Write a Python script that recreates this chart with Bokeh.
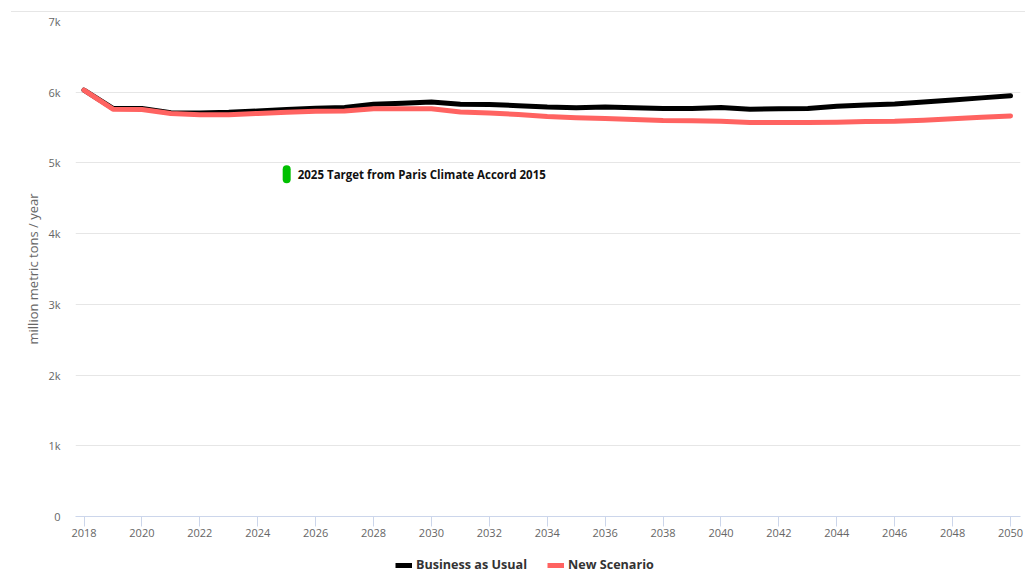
from bokeh.plotting import figure
from bokeh.layouts import column
from bokeh.models import Range1d, FixedTicker, Legend, LegendItem, Label, Div
from bokeh.embed import file_html
from bokeh.resources import INLINE

years = list(range(2018, 2051))
business_as_usual = [6030, 5770, 5770, 5710, 5705, 5715, 5735, 5755, 5775, 5785, 5830, 5845, 5860,
                     5830, 5825, 5810, 5790, 5780, 5790, 5780, 5770, 5770, 5785, 5760, 5765, 5770,
                     5800, 5820, 5835, 5860, 5890, 5920, 5950]
new_scenario = [6030, 5760, 5755, 5700, 5680, 5680, 5700, 5715, 5730, 5735, 5765, 5765, 5765,
                5720, 5705, 5685, 5655, 5640, 5630, 5615, 5600, 5595, 5590, 5570, 5570, 5570,
                5575, 5585, 5590, 5605, 5625, 5645, 5665]
target_year = [2025, 2025]
target_range = [4770, 4910]
target_label = "2025 Target from Paris Climate Accord 2015"
series_names = ["Business as Usual", "New Scenario"]
series_colors = ["#000000", "#ff6361"]
x_ticks = list(range(2018, 2051, 2))
y_ticks = [0, 1000, 2000, 3000, 4000, 5000, 6000, 7000]
y_tick_labels = ["0", "1k", "2k", "3k", "4k", "5k", "6k", "7k"]

FONT = "Open Sans"

# thin top rule
top = Div(text="", width=1014, height=1, margin=(11, 0, 0, 11),
          styles={"background-color": "#e6e6e6"})

p = figure(width=1025, height=534, output_backend="svg", toolbar_location=None,
           x_range=Range1d(2017.706, 2050.345), y_range=Range1d(0, 7000),
           min_border_left=75, min_border_right=5, min_border_top=9, min_border_bottom=30)
p.outline_line_color = None
p.background_fill_color = "white"
p.border_fill_color = "white"

p.xgrid.grid_line_color = None
p.ygrid.grid_line_color = "#e6e6e6"
p.ygrid.ticker = FixedTicker(ticks=y_ticks)

xa = p.xaxis[0]
xa.ticker = FixedTicker(ticks=x_ticks)
xa.axis_line_color = "#ccd6eb"
xa.major_tick_line_color = "#ccd6eb"
xa.major_tick_out = 10
xa.major_tick_in = 0
xa.minor_tick_line_color = None
xa.major_label_text_font = FONT
xa.major_label_text_font_size = "11px"
xa.major_label_text_color = "#666666"
xa.major_label_standoff = 2

ya = p.yaxis[0]
ya.ticker = FixedTicker(ticks=y_ticks)
ya.major_label_overrides = {t: l for t, l in zip(y_ticks, y_tick_labels)}
ya.axis_line_color = None
ya.major_tick_line_color = None
ya.minor_tick_line_color = None
ya.major_label_text_font = FONT
ya.major_label_text_font_size = "11px"
ya.major_label_text_color = "#666666"
ya.major_label_standoff = 9
ya.axis_label = "million metric tons / year"
ya.axis_label_text_font = FONT
ya.axis_label_text_font_size = "13px"
ya.axis_label_text_font_style = "normal"
ya.axis_label_text_color = "#666666"
ya.axis_label_standoff = 3

p.line(years, business_as_usual, line_color=series_colors[0], line_width=5, line_join="round", line_cap="round")
p.line(years, new_scenario, line_color=series_colors[1], line_width=5, line_join="round", line_cap="round")

p.line(target_year, target_range, line_color="#00c000", line_width=8, line_cap="round")
p.add_layout(Label(x=target_year[0], y=sum(target_range) / 2, x_offset=11, text=target_label,
                   text_font=FONT, text_font_size="11.5px", text_font_style="bold",
                   text_color="#111111", text_baseline="middle"))

# legend strip (frame is aligned with the main plot's frame)
leg = figure(width=1025, height=27, output_backend="svg", toolbar_location=None,
             x_axis_location=None, y_axis_location=None,
             x_range=Range1d(0, 1), y_range=Range1d(0, 1),
             min_border_left=75, min_border_right=5, min_border_top=0, min_border_bottom=0)
leg.outline_line_color = None
leg.grid.grid_line_color = None
leg.background_fill_color = "white"
leg.border_fill_color = "white"
r1 = leg.line(years[:2], business_as_usual[:2], line_color=series_colors[0], line_width=5)
r2 = leg.line(years[:2], new_scenario[:2], line_color=series_colors[1], line_width=5)
legend = Legend(items=[LegendItem(label=series_names[0], renderers=[r1]),
                       LegendItem(label=series_names[1], renderers=[r2])],
                orientation="horizontal", location=(320, 0),
                border_line_color=None, background_fill_alpha=0,
                label_text_font=FONT, label_text_font_size="12.6px", label_text_font_style="bold",
                label_text_color="#333333", glyph_width=17, glyph_height=12,
                label_standoff=4, spacing=20, padding=0, margin=0)
leg.add_layout(legend, "center")

layout = column(top, p, leg, spacing=0)
open("out.html", "w").write(file_html(layout, INLINE))
